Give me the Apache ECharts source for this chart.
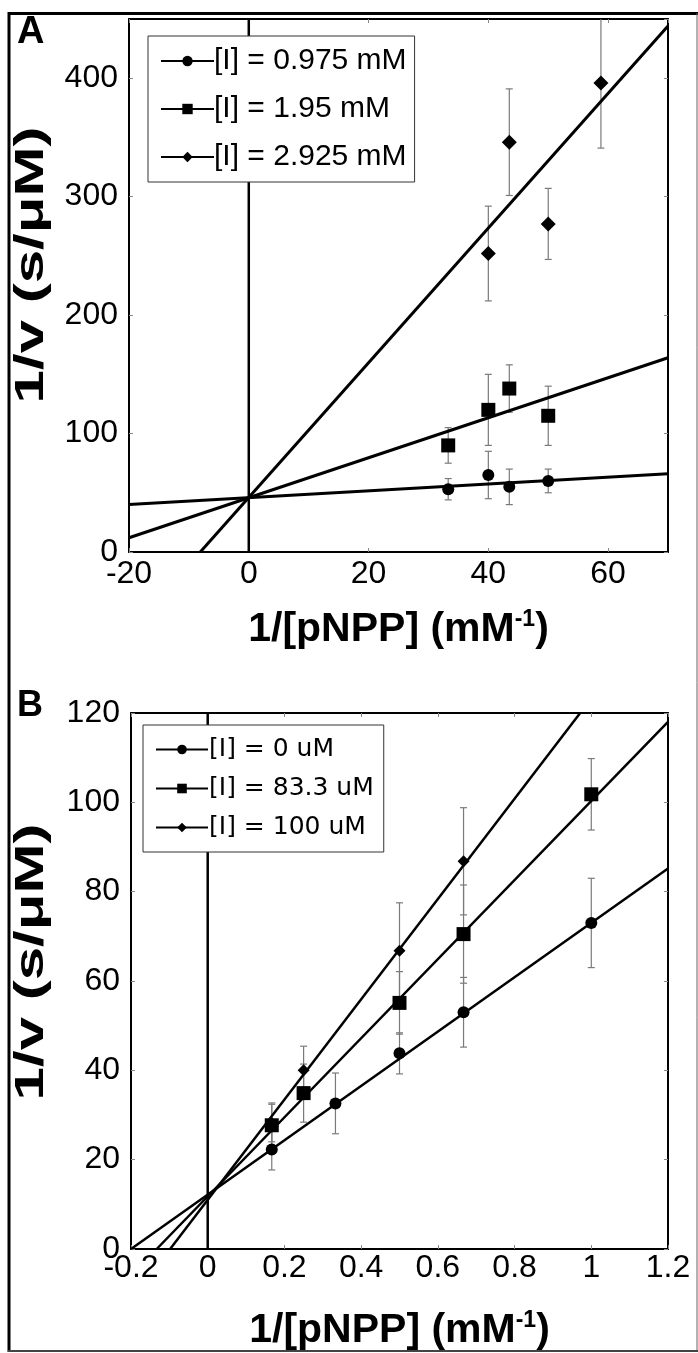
<!DOCTYPE html>
<html><head><meta charset="utf-8">
<script src="https://cdn.jsdelivr.net/npm/echarts@6/dist/echarts.min.js"></script>
<style>html,body{margin:0;padding:0;background:#fff}#c{width:698px;height:1353px}</style>
</head><body><div id="c"></div>
<script>
// ---------- Panel A data ----------
const aNames = ['[I] = 0.975 mM', '[I] = 1.95 mM', '[I] = 2.925 mM'];
const aX1 = [33.3, 40, 43.5, 50];
const aY1 = [53, 65, 55, 60];
const aE1 = [9, 20, 15, 10];
const aX2 = [33.3, 40, 43.5, 50];
const aY2 = [90, 120, 138, 115];
const aE2 = [15, 30, 20, 25];
const aX3 = [40, 43.5, 50, 58.8];
const aY3 = [252, 346, 277, 396];
const aE3 = [40, 45, 30, 55];
const aFitX1 = [-20, 70], aFitY1 = [40, 66];
const aFitX2 = [-20, 70], aFitY2 = [12, 164];
const aFitX3 = [-8.1, 70], aFitY3 = [0, 444];
const aXAxisRange = [-20, 70, 20];
const aYAxisRange = [0, 450, 100];

// ---------- Panel B data ----------
const bNames = ['[I] = 0 uM', '[I] = 83.3 uM', '[I] = 100 uM'];
const bX1 = [0.167, 0.333, 0.5, 0.667, 1];
const bY1 = [22.3, 32.6, 43.8, 53, 73];
const bE1 = [4.6, 6.8, 4.6, 7.8, 10];
const bX2 = [0.167, 0.25, 0.5, 0.667, 1];
const bY2 = [27.7, 34.9, 55.1, 70.5, 101.8];
const bE2 = [5, 6.5, 7, 11, 8];
const bX3 = [0.167, 0.25, 0.5, 0.667];
const bY3 = [28.2, 40, 66.8, 86.8];
const bE3 = [4.2, 5.4, 10.7, 12];
const bFitX1 = [-0.2, 1.2], bFitY1 = [0, 85.2];
const bFitX2 = [-0.133, 1.2], bFitY2 = [0, 118];
const bFitX3 = [-0.098, 0.971], bFitY3 = [0, 120];
const bXAxisRange = [-0.2, 1.2, 0.2];
const bYAxisRange = [0, 120, 20];

const yTitle = '1/v (s/\u03bcM)';

const FONT = '"Liberation Sans", Arial, sans-serif';
const zip = (xs, ys) => xs.map((x, i) => [x, ys[i]]);
const errs = (xs, ys, es) => xs.map((x, i) => [x, ys[i] - es[i], ys[i] + es[i]]);

function errRender(params, api) {
  const x = api.value(0), lo = api.value(1), hi = api.value(2);
  const p1 = api.coord([x, hi]), p2 = api.coord([x, lo]);
  const cw = 3.5;
  const st = { stroke: '#7a7a7a', lineWidth: 1.2 };
  return { type: 'group', children: [
    { type: 'line', shape: { x1: p1[0], y1: p1[1], x2: p2[0], y2: p2[1] }, style: st },
    { type: 'line', shape: { x1: p1[0] - cw, y1: p1[1], x2: p1[0] + cw, y2: p1[1] }, style: st },
    { type: 'line', shape: { x1: p2[0] - cw, y1: p2[1], x2: p2[0] + cw, y2: p2[1] }, style: st }
  ]};
}

function xAxes(gi, r, labelMargin, showMax, gap) {
  return [{
    gridIndex: gi, type: 'value', min: r[0], max: r[1], interval: r[2], position: 'bottom',
    axisLine: { show: true, onZero: false, lineStyle: { color: '#000', width: 2 } },
    axisTick: { show: true, inside: true, length: 4, lineStyle: { color: '#888' } },
    axisLabel: { fontSize: 32, fontFamily: FONT, color: '#000', margin: labelMargin, showMaxLabel: showMax },
    splitLine: { show: false },
    name: '{m|1/[pNPP] (mM}{s|-1}{m|)}', nameLocation: 'middle', nameGap: gap,
    nameTextStyle: { rich: {
      m: { fontSize: 41, fontWeight: 'bold', fontFamily: FONT, color: '#000', lineHeight: 44 },
      s: { fontSize: 23, fontWeight: 'bold', fontFamily: FONT, color: '#000', verticalAlign: 'top', lineHeight: 24 }
    } }
  }, {
    gridIndex: gi, type: 'value', min: r[0], max: r[1], interval: r[2], position: 'top',
    axisLine: { show: true, onZero: false, lineStyle: { color: '#000', width: 2 } },
    axisTick: { show: true, inside: true, length: 4, lineStyle: { color: '#888' } },
    axisLabel: { show: false }, splitLine: { show: false }
  }];
}
function yAxes(gi, r, pad, showMax) {
  return [{
    gridIndex: gi, type: 'value', min: r[0], max: r[1], interval: r[2], position: 'left',
    axisLine: { show: true, onZero: false, lineStyle: { color: '#000', width: 2 } },
    axisTick: { show: true, inside: true, length: 4, lineStyle: { color: '#888' } },
    axisLabel: { fontSize: 32, fontFamily: FONT, color: '#000', margin: 11, padding: [0, 0, pad, 0], showMaxLabel: showMax },
    splitLine: { show: false }
  }, {
    gridIndex: gi, type: 'value', min: r[0], max: r[1], interval: r[2], position: 'right',
    axisLine: { show: true, onZero: false, lineStyle: { color: '#000', width: 2 } },
    axisTick: { show: true, inside: true, length: 4, lineStyle: { color: '#888' } },
    axisLabel: { show: false }, splitLine: { show: false }
  }];
}

const symbols = ['circle', 'rect', 'diamond'];
function panelSeries(gi, names, pts, fits, errList, sizes, lw, yr) {
  const xi = gi * 2, yi = gi * 2;
  const out = [];
  // vertical reference line at x = 0
  out.push({ type: 'line', xAxisIndex: xi, yAxisIndex: yi, data: [[0, yr[0]], [0, yr[1]]],
    symbol: 'none', silent: true, z: 2, lineStyle: { color: '#000', width: 2.5 } });
  for (let k = 0; k < 3; k++) {
    out.push({ type: 'custom', xAxisIndex: xi, yAxisIndex: yi, renderItem: errRender,
      data: errList[k], clip: true, z: 1, silent: true });
  }
  for (let k = 0; k < 3; k++) {
    out.push({ type: 'line', name: names[k], xAxisIndex: xi, yAxisIndex: yi, data: fits[k],
      symbol: symbols[k], showSymbol: false, clip: true, silent: true, z: 3,
      lineStyle: { color: '#000', width: lw }, itemStyle: { color: '#000' } });
  }
  for (let k = 0; k < 3; k++) {
    out.push({ type: 'scatter', name: 'pts' + gi + k, xAxisIndex: xi, yAxisIndex: yi, data: pts[k],
      symbol: symbols[k], symbolSize: sizes[k], itemStyle: { color: '#000', opacity: 1 }, z: 4, silent: true });
  }
  return out;
}

const series = [].concat(
  panelSeries(0, aNames,
    [zip(aX1, aY1), zip(aX2, aY2), zip(aX3, aY3)],
    [zip(aFitX1, aFitY1), zip(aFitX2, aFitY2), zip(aFitX3, aFitY3)],
    [errs(aX1, aY1, aE1), errs(aX2, aY2, aE2), errs(aX3, aY3, aE3)],
    [12, 14, 15], 3, aYAxisRange),
  panelSeries(1, bNames,
    [zip(bX1, bY1), zip(bX2, bY2), zip(bX3, bY3)],
    [zip(bFitX1, bFitY1), zip(bFitX2, bFitY2), zip(bFitX3, bFitY3)],
    [errs(bX1, bY1, bE1), errs(bX2, bY2, bE2), errs(bX3, bY3, bE3)],
    [12, 14, 12], 2.5, bYAxisRange)
);

function yTitleGraphic(cx, cy) {
  return { type: 'text', x: cx, y: cy, rotation: Math.PI / 2, scaleX: 1.5, scaleY: 1,
    style: { text: yTitle, fontSize: 40, fontWeight: 'bold', fontFamily: FONT, fill: '#000',
      textAlign: 'center', textVerticalAlign: 'middle' } };
}

const chart = echarts.init(document.getElementById('c'), null, { renderer: 'canvas' });
chart.setOption({
  animation: false,
  backgroundColor: '#fff',
  grid: [
    { left: 129, right: 30, top: 19, height: 533, show: false },
    { left: 131, right: 30, top: 713, height: 536, show: false }
  ],
  xAxis: [].concat(xAxes(0, aXAxisRange, 6, false, 56), xAxes(1, bXAxisRange, 3, true, 60)),
  yAxis: [].concat(yAxes(0, aYAxisRange, 14, false), yAxes(1, bYAxisRange, 8, true)),
  legend: [
    { data: aNames, orient: 'vertical', left: 148, top: 36, selectedMode: false,
      itemWidth: 53, itemHeight: 13, itemGap: 18, padding: [10, 8, 10, 12],
      backgroundColor: '#fff', borderColor: '#333', borderWidth: 1, borderRadius: 0,
      lineStyle: { width: 2 },
      textStyle: { fontSize: 30, fontFamily: FONT, color: '#000', lineHeight: 29, padding: [0, 0, 0, -5] } },
    { data: bNames, orient: 'vertical', left: 143, top: 725, selectedMode: false,
      itemWidth: 52, itemHeight: 12, itemGap: 14, padding: [12, 10, 12, 12],
      backgroundColor: '#fff', borderColor: '#333', borderWidth: 1, borderRadius: 0,
      lineStyle: { width: 2 },
      textStyle: { fontSize: 25, fontFamily: '"DejaVu Sans", sans-serif', color: '#000', lineHeight: 25, padding: [0, 0, 0, -4] } }
  ],
  graphic: [
    { type: 'line', shape: { x1: 8, y1: 13.5, x2: 698, y2: 13.5 }, style: { stroke: '#000', lineWidth: 3 } },
    { type: 'line', shape: { x1: 9, y1: 12, x2: 9, y2: 1352 }, style: { stroke: '#000', lineWidth: 3 } },
    { type: 'line', shape: { x1: 697, y1: 13, x2: 697, y2: 1352 }, style: { stroke: '#666', lineWidth: 1 } },
    { type: 'line', shape: { x1: 8, y1: 1351, x2: 698, y2: 1351 }, style: { stroke: '#444', lineWidth: 2 } },
    { type: 'text', left: 17, top: 14, style: { text: 'A', fontSize: 38, fontWeight: 'bold', fontFamily: FONT, fill: '#000' } },
    { type: 'text', left: 17, top: 688, style: { text: 'B', fontSize: 36, fontWeight: 'bold', fontFamily: FONT, fill: '#000' } },
    yTitleGraphic(32, 265),
    yTitleGraphic(32, 962)
  ],
  series: series
});
</script></body></html>
